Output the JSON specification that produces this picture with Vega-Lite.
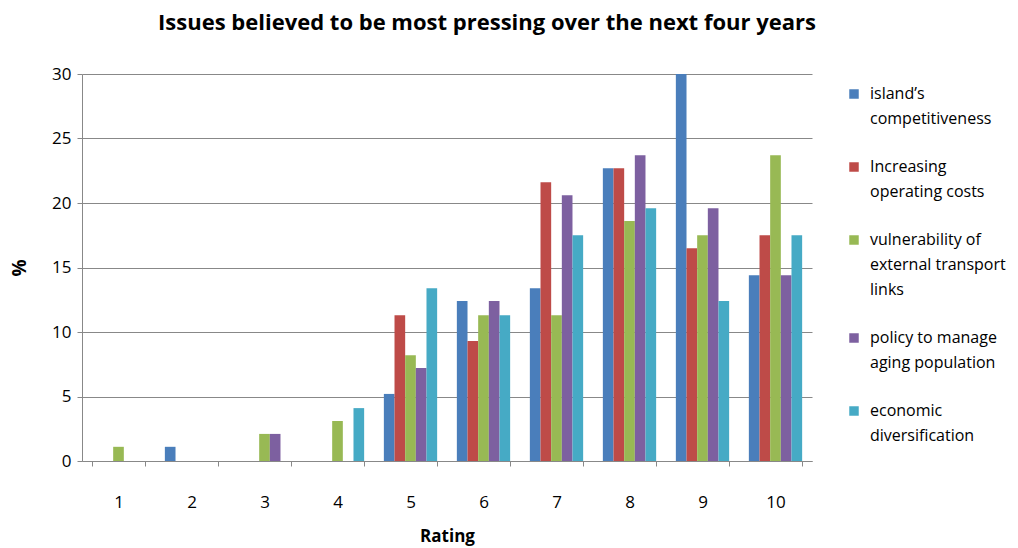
{
  "$schema": "https://vega.github.io/schema/vega-lite/v6.json",
  "width": 730,
  "height": 387,
  "padding": {"left": 10, "top": 12, "right": 5, "bottom": 5},
  "config": {"font": "Open Sans", "view": {"stroke": null}},
  "title": {"text": "Issues believed to be most pressing over the next four years", "fontSize": 22, "fontWeight": "bold", "color": "#000", "offset": 30, "anchor": "middle", "dx": 40},
  "data": {"values": [
    {"rating": "1", "issue": "A", "pct": 0}, {"rating": "1", "issue": "B", "pct": 0}, {"rating": "1", "issue": "C", "pct": 1.1}, {"rating": "1", "issue": "D", "pct": 0}, {"rating": "1", "issue": "E", "pct": 0},
    {"rating": "2", "issue": "A", "pct": 1.1}, {"rating": "2", "issue": "B", "pct": 0}, {"rating": "2", "issue": "C", "pct": 0}, {"rating": "2", "issue": "D", "pct": 0}, {"rating": "2", "issue": "E", "pct": 0},
    {"rating": "3", "issue": "A", "pct": 0}, {"rating": "3", "issue": "B", "pct": 0}, {"rating": "3", "issue": "C", "pct": 2.1}, {"rating": "3", "issue": "D", "pct": 2.1}, {"rating": "3", "issue": "E", "pct": 0},
    {"rating": "4", "issue": "A", "pct": 0}, {"rating": "4", "issue": "B", "pct": 0}, {"rating": "4", "issue": "C", "pct": 3.1}, {"rating": "4", "issue": "D", "pct": 0}, {"rating": "4", "issue": "E", "pct": 4.1},
    {"rating": "5", "issue": "A", "pct": 5.2}, {"rating": "5", "issue": "B", "pct": 11.3}, {"rating": "5", "issue": "C", "pct": 8.2}, {"rating": "5", "issue": "D", "pct": 7.2}, {"rating": "5", "issue": "E", "pct": 13.4},
    {"rating": "6", "issue": "A", "pct": 12.4}, {"rating": "6", "issue": "B", "pct": 9.3}, {"rating": "6", "issue": "C", "pct": 11.3}, {"rating": "6", "issue": "D", "pct": 12.4}, {"rating": "6", "issue": "E", "pct": 11.3},
    {"rating": "7", "issue": "A", "pct": 13.4}, {"rating": "7", "issue": "B", "pct": 21.6}, {"rating": "7", "issue": "C", "pct": 11.3}, {"rating": "7", "issue": "D", "pct": 20.6}, {"rating": "7", "issue": "E", "pct": 17.5},
    {"rating": "8", "issue": "A", "pct": 22.7}, {"rating": "8", "issue": "B", "pct": 22.7}, {"rating": "8", "issue": "C", "pct": 18.6}, {"rating": "8", "issue": "D", "pct": 23.7}, {"rating": "8", "issue": "E", "pct": 19.6},
    {"rating": "9", "issue": "A", "pct": 30}, {"rating": "9", "issue": "B", "pct": 16.5}, {"rating": "9", "issue": "C", "pct": 17.5}, {"rating": "9", "issue": "D", "pct": 19.6}, {"rating": "9", "issue": "E", "pct": 12.4},
    {"rating": "10", "issue": "A", "pct": 14.4}, {"rating": "10", "issue": "B", "pct": 17.5}, {"rating": "10", "issue": "C", "pct": 23.7}, {"rating": "10", "issue": "D", "pct": 14.4}, {"rating": "10", "issue": "E", "pct": 17.5}
  ]},
  "mark": {"type": "bar"},
  "encoding": {
    "x": {"field": "rating", "type": "ordinal", "sort": null, "title": "Rating",
      "scale": {"paddingInner": 0.27, "paddingOuter": 0.135},
      "axis": {"labelAngle": 0, "labelFontSize": 17, "labelColor": "#000", "titleFontSize": 17, "titleFontWeight": "bold", "titleColor": "#000", "domainColor": "#888", "tickColor": "#888", "tickBand": "extent", "labelPadding": 28, "titlePadding": 18}},
    "xOffset": {"field": "issue", "type": "nominal"},
    "y": {"field": "pct", "type": "quantitative", "title": "%",
      "scale": {"domain": [0, 30]},
      "axis": {"values": [0, 5, 10, 15, 20, 25, 30], "labelFontSize": 17, "labelColor": "#000", "titleFontSize": 19, "titleFontWeight": "bold", "titleColor": "#000", "titleAngle": 270, "titlePadding": 22, "gridColor": "#888", "domainColor": "#888", "tickColor": "#888", "labelPadding": 6}},
    "color": {"field": "issue", "type": "nominal",
      "scale": {"domain": ["A", "B", "C", "D", "E"], "range": ["#4a7ebb", "#be4b48", "#98b954", "#7d60a0", "#46aac5"]},
      "legend": {"title": null, "orient": "right", "offset": 22, "padding": 12, "symbolType": "square", "symbolSize": 90, "labelFontSize": 16, "labelColor": "#000", "rowPadding": 32, "labelLimit": 200, "labelBaseline": "top", "labelOffset": 8,
        "encode": {"labels": {"update": {"lineHeight": {"value": 25}, "dy": {"value": -8}}}},
        "labelExpr": "datum.value == 'A' ? ['island’s', 'competitiveness'] : datum.value == 'B' ? ['Increasing', 'operating costs'] : datum.value == 'C' ? ['vulnerability of', 'external transport', 'links'] : datum.value == 'D' ? ['policy to manage', 'aging population'] : ['economic', 'diversification']"}}
  }
}
